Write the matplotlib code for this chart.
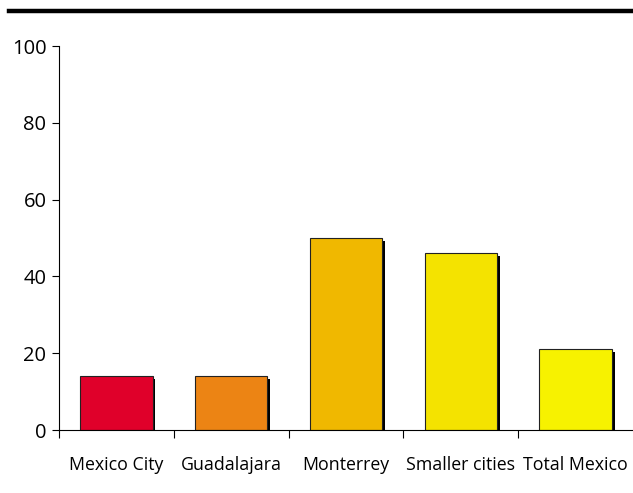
import matplotlib
matplotlib.use("Agg")
import matplotlib.pyplot as plt
import numpy as np

categories = ["Mexico City", "Guadalajara", "Monterrey", "Smaller cities", "Total Mexico"]
values = [14, 14, 50, 46, 21]
colors = ["#E0002A", "#EC8414", "#F0B800", "#F4E300", "#F7F200"]

plt.rcParams['font.family'] = ['Open Sans', 'DejaVu Sans']

fig = plt.figure(figsize=(6.33, 4.93), dpi=100)
ax = fig.add_axes([59 / 633, 1 - 430 / 493, 1 - 59 / 633, (430 - 46) / 493])

xs = np.arange(len(categories))
w = 0.63
# drop shadow behind each bar
ax.bar(xs + 0.025, values, w, bottom=-0.7, color="black", zorder=2)
ax.bar(xs, values, w, color=colors, edgecolor="#222222", linewidth=0.8, zorder=3)

ax.set_xlim(-0.5, len(categories) - 0.5)
ax.set_ylim(0, 100)
ax.set_yticks([0, 20, 40, 60, 80, 100])
ax.tick_params(axis="y", labelsize=14.5, length=5, width=0.8, pad=4)
ax.set_xticks(xs)
ax.set_xticklabels(categories)
ax.tick_params(axis="x", which="major", length=0, labelsize=12.8, pad=19)
ax.set_xticks(np.arange(len(categories)) - 0.5, minor=True)
ax.tick_params(axis="x", which="minor", length=6, width=0.8, direction="out")

for s in ["top", "right"]:
    ax.spines[s].set_visible(False)
ax.spines["left"].set_linewidth(0.8)
ax.spines["bottom"].set_linewidth(0.8)
ax.spines["bottom"].set_zorder(4)

fig.add_artist(plt.Line2D([9 / 633, 1], [1 - 11 / 493, 1 - 11 / 493], color="black", linewidth=3.2, transform=fig.transFigure))

fig.savefig("out.png", dpi=100)
